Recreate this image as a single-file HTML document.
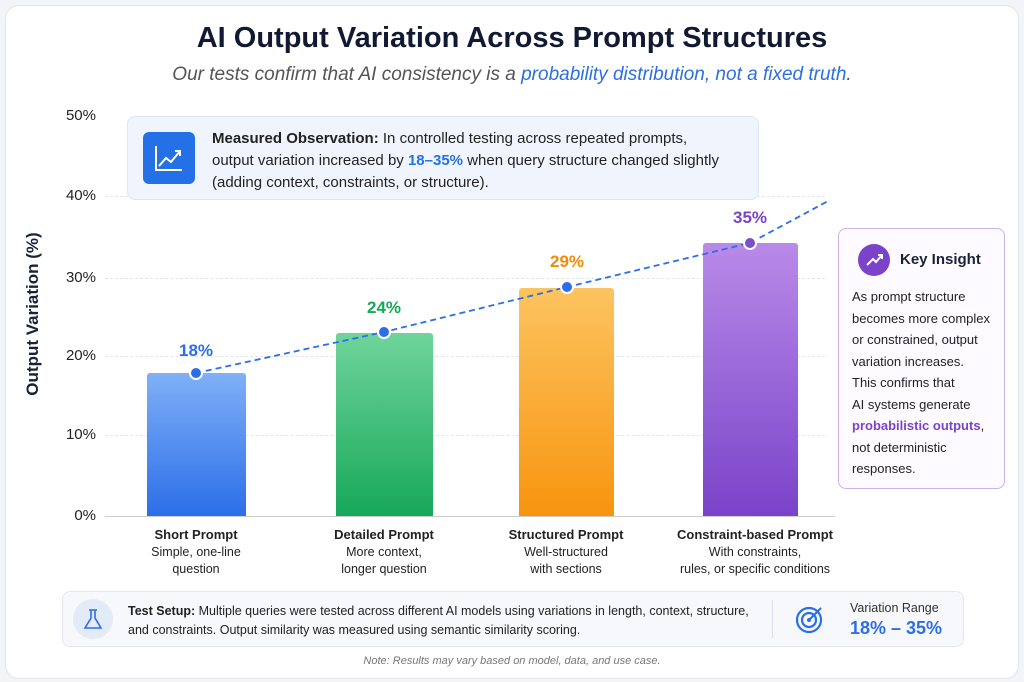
<!DOCTYPE html><html><head><meta charset="utf-8"><style>
body{margin:0;width:1024px;height:682px;background:#f3f4f7;font-family:"Liberation Sans",sans-serif;position:relative;overflow:hidden}
.card{position:absolute;left:5px;top:5px;width:1012px;height:672px;background:#fff;border:1px solid #e2e5ea;border-radius:14px}
.a{position:absolute}
.t{left:0;width:1024px;text-align:center}
.tick{position:absolute;left:52px;width:44px;text-align:right;font-size:15px;color:#222}
.grid{position:absolute;left:105px;width:720px;border-top:1px dashed #e3e5ea}
.bar{position:absolute;bottom:166px;border-radius:3px 3px 0 0}
.lbl{position:absolute;width:180px;text-align:center;font-size:12.5px;color:#222;line-height:17px}
.lbl b{font-size:13px}
.val{position:absolute;width:100px;text-align:center;font-weight:bold;font-size:17px}
</style></head><body>
<div class="card"></div>
<div class="a t" style="top:22px;font-size:29px;font-weight:bold;color:#121a33">AI Output Variation Across Prompt Structures</div>
<div class="a t" style="top:64px;font-size:19px;font-style:italic;color:#555">Our tests confirm that AI consistency is a <span style="color:#2c6fe0">probability distribution, not a fixed truth</span>.</div>
<div class="grid" style="top:196px"></div><div class="grid" style="top:278px"></div><div class="grid" style="top:356px"></div><div class="grid" style="top:435px"></div>
<div class="a" style="left:105px;top:516px;width:730px;border-top:1px solid #ccc"></div>
<div class="tick" style="top:107px">50%</div><div class="tick" style="top:187px">40%</div><div class="tick" style="top:269px">30%</div><div class="tick" style="top:347px">20%</div><div class="tick" style="top:426px">10%</div><div class="tick" style="top:507px">0%</div>
<div class="a" style="left:-52px;top:304px;width:170px;text-align:center;transform:rotate(-90deg);font-size:17px;font-weight:bold;color:#1a2238">Output Variation (%)</div>
<div class="a" style="left:127px;top:116px;width:630px;height:82px;background:#f0f5fd;border:1px solid #dde6f3;border-radius:8px"></div>
<div class="a" style="left:143px;top:132px;width:52px;height:52px;background:#2470e6;border-radius:6px"><svg width="52" height="52"><path d="M13 14v24h26" stroke="#fff" stroke-width="2" fill="none"/><path d="M16 34l7-8 5 4 9-11M32 19h5v5" stroke="#fff" stroke-width="2" fill="none"/></svg></div>
<div class="a" style="left:212px;top:128px;font-size:15px;line-height:22px;color:#222">
<b>Measured Observation:</b> In controlled testing across repeated prompts,<br>output variation increased by <b style="color:#2470e6">18–35%</b> when query structure changed slightly<br>(adding context, constraints, or structure).</div>
<div class="bar" style="left:147px;width:99px;height:143px;background:linear-gradient(#7fb0f7,#2c6ee8)"></div>
<div class="bar" style="left:336px;width:97px;height:183px;background:linear-gradient(#70d49a,#17a85a)"></div>
<div class="bar" style="left:519px;width:95px;height:228px;background:linear-gradient(#fcc460,#f7940f)"></div>
<div class="bar" style="left:703px;width:95px;height:273px;background:linear-gradient(#b98ae8,#7a43c9)"></div>
<svg class="a" style="left:0;top:0" width="1024" height="682"><path d="M196 373L384 332L567 287L750 243L830 200" stroke="#2c6ee8" stroke-width="1.8" stroke-dasharray="6 4" fill="none"/>
<g stroke="#fff" stroke-width="2"><circle cx="196" cy="373" r="6" fill="#2c6ee8"/><circle cx="384" cy="332" r="6" fill="#2c6ee8"/><circle cx="567" cy="287" r="6" fill="#2c6ee8"/><circle cx="750" cy="243" r="6" fill="#7a4fc9"/></g></svg>
<div class="val" style="left:146px;top:341px;color:#2c6ee8">18%</div>
<div class="val" style="left:334px;top:298px;color:#17a85a">24%</div>
<div class="val" style="left:517px;top:252px;color:#f28a0a">29%</div>
<div class="val" style="left:700px;top:208px;color:#7a43c9">35%</div>
<div class="lbl" style="left:106px;top:526px"><b>Short Prompt</b><br>Simple, one-line<br>question</div>
<div class="lbl" style="left:294px;top:526px"><b>Detailed Prompt</b><br>More context,<br>longer question</div>
<div class="lbl" style="left:476px;top:526px"><b>Structured Prompt</b><br>Well-structured<br>with sections</div>
<div class="lbl" style="left:660px;top:526px;width:190px"><b>Constraint-based Prompt</b><br>With constraints,<br>rules, or specific conditions</div>
<div class="a" style="left:838px;top:228px;width:165px;height:259px;border:1px solid #c9b3ec;border-radius:8px;background:#fdfbff"></div>
<div class="a" style="left:858px;top:244px;width:32px;height:32px;border-radius:50%;background:#7a43c9"><svg width="32" height="32"><path d="M9 21l6-6 3 3 6-7M20 11h4v4" stroke="#fff" stroke-width="2" fill="none"/></svg></div>
<div class="a" style="left:900px;top:251px;font-size:15px;font-weight:bold;color:#1a2238">Key Insight</div>
<div class="a" style="left:852px;top:286px;font-size:13px;line-height:21.5px;color:#222">As prompt structure<br>becomes more complex<br>or constrained, output<br>variation increases.<br>This confirms that<br>AI systems generate<br><b style="color:#7a43c9">probabilistic outputs</b>,<br>not deterministic<br>responses.</div>
<div class="a" style="left:62px;top:591px;width:900px;height:54px;background:#f7f8fb;border:1px solid #e3e6eb;border-radius:8px"></div>
<div class="a" style="left:73px;top:599px;width:40px;height:40px;border-radius:50%;background:#e3ebf8"><svg width="40" height="40"><path d="M16 11h8M18 11v8l-6 10h16l-6-10v-8" stroke="#2c6ee8" stroke-width="1.6" fill="none"/></svg></div>
<div class="a" style="left:128px;top:602px;font-size:12.5px;line-height:19px;color:#222"><b>Test Setup:</b> Multiple queries were tested across different AI models using variations in length, context, structure,<br>and constraints. Output similarity was measured using semantic similarity scoring.</div>
<div class="a" style="left:772px;top:600px;height:38px;border-left:1px solid #dde"></div>
<svg class="a" style="left:793px;top:602px" width="34" height="34"><circle cx="16" cy="18" r="12" stroke="#2c6ee8" stroke-width="2.2" fill="none"/><circle cx="16" cy="18" r="7" stroke="#2c6ee8" stroke-width="2.2" fill="none"/><circle cx="16" cy="18" r="2" fill="#2c6ee8"/><path d="M16 18L28 6" stroke="#2c6ee8" stroke-width="2"/></svg>
<div class="a" style="left:850px;top:601px;font-size:12.5px;color:#333">Variation Range</div>
<div class="a" style="left:850px;top:618px;font-size:18px;font-weight:bold;color:#2c6ee8">18% – 35%</div>
<div class="a t" style="top:655px;font-size:11px;font-style:italic;color:#777">Note: Results may vary based on model, data, and use case.</div>
</body></html>
